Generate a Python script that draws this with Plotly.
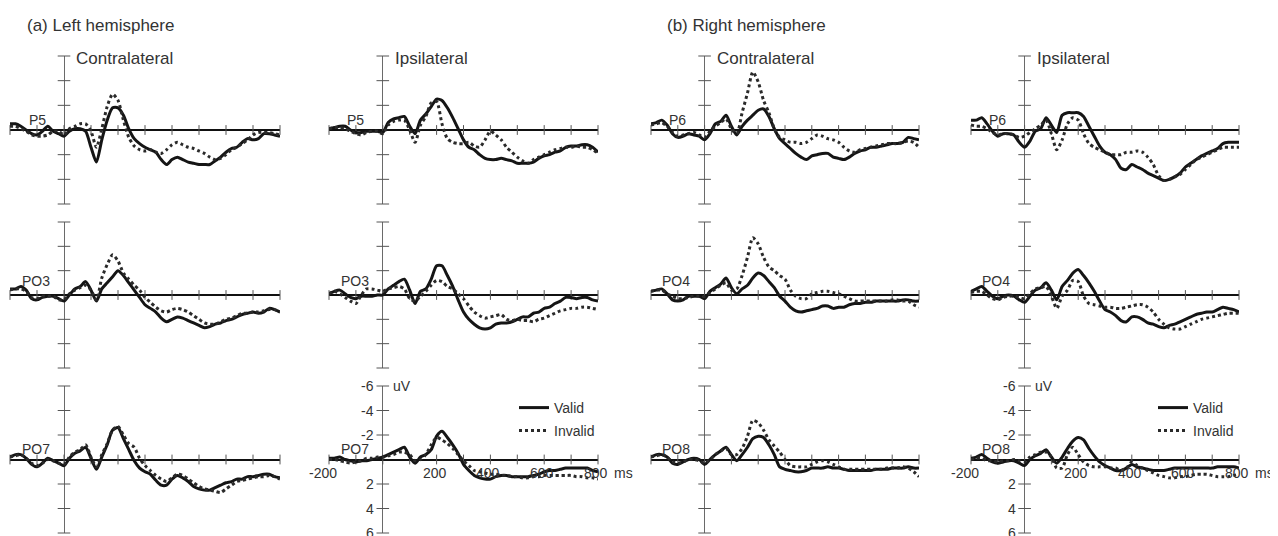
import plotly.graph_objects as go

# ---------------- data (uV, negative up) ----------------
TIME_MS = list(range(-200, 801, 20))

P5_CONTRA_VALID = [-0.5, -0.5, -0.3, 0.0, 0.3, 0.4, 0.1, -0.3, 0.1, 0.3,
                   0.5, 0.1, -0.1, -0.1, 0.1, 1.4, 2.6, 0.8, -0.8, -1.8,
                   -1.8, -1.2, -0.1, 0.7, 1.1, 1.4, 1.6, 1.8, 2.4, 2.8,
                   2.4, 2.2, 2.4, 2.6, 2.7, 2.8, 2.8, 2.8, 2.5, 2.2,
                   1.8, 1.5, 1.4, 1.0, 0.7, 0.8, 0.7, 0.3, 0.3, 0.4, 0.5]
P5_CONTRA_INVALID = [-0.3, -0.3, -0.1, 0.1, 0.4, 0.5, 0.5, 0.4, 0.1, 0.1,
                     0.4, -0.1, -0.3, -0.5, -0.5, 0.1, 1.4, -0.1, -1.9, -2.9,
                     -2.4, -0.8, 0.6, 1.3, 1.6, 1.7, 1.6, 1.8, 1.9, 1.6,
                     1.2, 1.0, 1.2, 1.4, 1.5, 1.7, 1.9, 2.2, 2.4, 2.3,
                     2.0, 1.6, 1.4, 1.1, 0.8, 0.4, 0.2, 0.2, 0.2, 0.3, 0.4]
P5_IPSI_VALID = [-0.1, -0.2, -0.3, -0.3, 0.0, 0.2, 0.2, 0.1, 0.1, 0.1,
                 0.2, -0.6, -0.9, -1.0, -1.1, -0.3, 0.3, -0.8, -1.3, -1.9,
                 -2.5, -2.4, -1.8, -1.0, -0.1, 0.8, 1.4, 1.6, 2.0, 2.3,
                 2.4, 2.4, 2.3, 2.4, 2.5, 2.7, 2.7, 2.7, 2.6, 2.3,
                 2.1, 2.0, 1.8, 1.7, 1.4, 1.3, 1.3, 1.2, 1.2, 1.4, 1.8]
P5_IPSI_INVALID = [-0.1, -0.2, -0.2, -0.1, 0.1, 0.3, 0.4, 0.2, 0.1, 0.1,
                   0.3, -0.4, -0.7, -0.8, -0.8, 0.0, 1.0, -0.4, -1.1, -2.2,
                   -2.3, -0.5, 0.7, 1.0, 1.1, 1.1, 1.0, 1.3, 1.4, 0.8,
                   0.1, 0.4, 0.8, 1.4, 1.8, 2.2, 2.5, 2.7, 2.4, 2.2,
                   2.0, 1.8, 1.6, 1.5, 1.4, 1.4, 1.3, 1.4, 1.4, 1.6, 1.9]
P6_CONTRA_VALID = [-0.5, -0.6, -0.8, -0.4, 0.3, 0.6, 0.5, 0.3, 0.4, 0.5,
                   0.8, 0.3, -0.5, -0.7, -1.2, -0.3, 0.4, -0.3, -0.8, -1.2,
                   -1.6, -1.7, -1.1, -0.1, 0.7, 1.1, 1.5, 1.9, 2.2, 2.4,
                   2.1, 2.0, 1.9, 1.9, 2.2, 2.3, 2.4, 2.2, 1.9, 1.7,
                   1.6, 1.4, 1.4, 1.3, 1.2, 1.1, 1.1, 1.0, 0.6, 0.7, 0.8]
P6_CONTRA_INVALID = [-0.4, -0.5, -0.6, -0.3, 0.2, 0.5, 0.4, 0.3, 0.2, 0.4,
                     0.6, 0.1, -0.3, -0.6, -0.9, -0.1, 0.3, -1.4, -3.0, -4.7,
                     -3.9, -2.4, -1.4, -0.1, 0.6, 0.8, 1.0, 1.0, 1.1, 1.0,
                     0.7, 0.4, 0.5, 0.7, 0.8, 1.0, 1.4, 1.7, 1.8, 1.6,
                     1.5, 1.4, 1.3, 1.2, 1.1, 1.1, 1.1, 1.0, 0.9, 1.0, 1.4]
P6_IPSI_VALID = [-0.8, -0.8, -1.0, -0.5, 0.1, 0.5, 0.3, 0.3, 0.4, 1.0,
                 1.4, 0.9, 0.1, -0.1, -1.0, -0.4, 0.2, -1.2, -1.4, -1.4,
                 -1.4, -1.1, -0.3, 0.5, 1.3, 1.8, 2.0, 2.4, 3.1, 3.2,
                 2.8, 3.0, 3.2, 3.5, 3.7, 3.9, 4.1, 4.0, 3.8, 3.5,
                 3.0, 2.7, 2.4, 2.1, 1.9, 1.7, 1.5, 1.1, 1.0, 1.0, 1.0]
P6_IPSI_INVALID = [-0.4, -0.3, -0.3, -0.1, 0.2, 0.4, 0.3, 0.3, 0.4, 0.6,
                   0.5, 0.2, -0.1, -0.4, -0.8, 0.3, 1.6, 0.8, -0.5, -1.0,
                   -0.8, 0.3, 1.1, 1.4, 1.6, 1.8, 2.0, 2.0, 2.0, 1.8,
                   1.8, 1.7, 1.8, 2.2, 2.8, 3.7, 4.1, 4.0, 3.8, 3.6,
                   3.2, 2.8, 2.4, 2.2, 2.0, 1.8, 1.6, 1.4, 1.4, 1.4, 1.4]

PO3_CONTRA_VALID = [-0.5, -0.5, -0.7, -0.4, 0.3, 0.4, 0.2, 0.1, 0.1, 0.3,
                    0.5, 0.0, -0.5, -0.7, -1.1, -0.4, 0.5, -0.5, -1.0, -1.5,
                    -2.0, -1.6, -1.0, -0.4, 0.2, 0.8, 1.1, 1.4, 1.9, 2.2,
                    2.0, 1.8, 1.9, 2.1, 2.3, 2.5, 2.7, 2.6, 2.4, 2.3,
                    2.1, 2.0, 1.8, 1.6, 1.5, 1.4, 1.5, 1.4, 1.1, 1.2, 1.4]
PO3_CONTRA_INVALID = [-0.4, -0.5, -0.5, -0.3, 0.2, 0.3, 0.1, 0.1, 0.1, 0.4,
                      0.4, -0.1, -0.4, -0.6, -0.8, -0.4, 0.4, -1.4, -2.5, -3.3,
                      -2.8, -1.8, -1.3, -0.8, -0.4, 0.2, 0.6, 1.0, 1.3, 1.4,
                      1.2, 1.1, 1.2, 1.4, 1.7, 2.0, 2.3, 2.4, 2.4, 2.2,
                      2.0, 1.9, 1.7, 1.5, 1.5, 1.4, 1.4, 1.3, 1.2, 1.2, 1.4]
PO3_IPSI_VALID = [-0.1, -0.3, -0.4, -0.1, 0.2, 0.3, 0.1, 0.1, 0.1, 0.0,
                  0.0, -0.5, -0.8, -1.1, -1.3, -0.4, 0.7, -0.3, -0.5, -1.3,
                  -2.4, -2.4, -1.6, -0.7, 0.4, 1.4, 2.0, 2.4, 2.7, 2.8,
                  2.7, 2.4, 2.3, 2.3, 2.2, 2.0, 1.8, 1.8, 1.5, 1.4,
                  1.1, 1.0, 0.7, 0.5, 0.2, 0.2, 0.3, 0.2, 0.2, 0.4, 0.5]
PO3_IPSI_INVALID = [-0.1, -0.3, -0.1, 0.2, 0.5, 0.7, 0.0, -0.5, -0.5, -0.4,
                    -0.3, -0.5, -0.6, -0.7, -0.5, 0.3, 0.5, 0.1, -0.3, -0.8,
                    -1.2, -1.1, -0.7, -0.5, -0.1, 0.3, 0.9, 1.4, 1.7, 1.9,
                    1.8, 1.7, 1.6, 2.0, 2.1, 2.0, 2.1, 2.1, 2.2, 2.0,
                    1.9, 1.7, 1.5, 1.3, 1.2, 1.1, 1.1, 1.0, 1.0, 1.1, 1.2]
PO4_CONTRA_VALID = [-0.3, -0.4, -0.5, -0.1, 0.4, 0.5, 0.4, 0.1, 0.1, 0.1,
                    0.3, -0.3, -0.6, -0.9, -1.4, -0.6, -0.1, -0.5, -0.8, -1.4,
                    -1.8, -1.6, -1.1, -0.6, 0.1, 0.5, 1.0, 1.3, 1.4, 1.3,
                    1.2, 1.1, 0.9, 0.9, 1.1, 1.0, 1.0, 0.8, 0.7, 0.7,
                    0.6, 0.6, 0.5, 0.5, 0.5, 0.5, 0.5, 0.4, 0.4, 0.5, 0.5]
PO4_CONTRA_INVALID = [-0.3, -0.4, -0.4, -0.1, 0.1, 0.3, 0.3, 0.2, 0.1, 0.1,
                      0.1, -0.2, -0.5, -0.8, -1.0, -0.4, -0.5, -1.6, -3.1, -4.7,
                      -4.2, -3.1, -2.3, -2.0, -1.6, -1.3, -0.4, 0.1, 0.3, 0.3,
                      -0.1, -0.2, -0.3, -0.3, -0.2, -0.1, 0.1, 0.3, 0.5, 0.5,
                      0.5, 0.5, 0.5, 0.5, 0.5, 0.4, 0.4, 0.5, 0.5, 0.8, 1.0]
PO4_IPSI_VALID = [-0.3, -0.5, -0.7, -0.3, 0.1, 0.3, 0.1, 0.0, 0.1, 0.4,
                  0.6, 0.1, -0.4, -0.6, -1.0, -0.4, 0.4, -0.7, -1.2, -1.8,
                  -2.1, -1.6, -1.0, -0.3, 0.5, 1.2, 1.4, 1.7, 2.1, 2.2,
                  1.8, 1.8, 2.0, 2.3, 2.4, 2.6, 2.7, 2.5, 2.4, 2.2,
                  2.0, 1.8, 1.6, 1.5, 1.4, 1.4, 1.2, 1.0, 1.1, 1.2, 1.4]
PO4_IPSI_INVALID = [-0.2, -0.3, -0.3, 0.0, 0.3, 0.4, 0.2, 0.1, 0.1, 0.2,
                    0.3, -0.1, -0.5, -0.6, -0.7, 0.1, 1.1, 0.1, -0.4, -1.2,
                    -1.1, 0.1, 0.7, 0.8, 0.9, 1.0, 1.0, 1.1, 1.1, 1.0,
                    0.9, 0.8, 0.8, 1.0, 1.4, 2.0, 2.4, 2.7, 2.8, 2.8,
                    2.6, 2.4, 2.2, 2.0, 1.9, 1.8, 1.7, 1.6, 1.5, 1.5, 1.5]

PO7_CONTRA_VALID = [-0.2, -0.4, -0.4, -0.1, 0.4, 0.6, 0.3, -0.1, 0.1, 0.3,
                    0.5, -0.1, -0.5, -0.7, -1.0, -0.1, 0.8, -0.2, -1.2, -2.4,
                    -2.6, -1.7, -0.8, 0.1, 0.7, 1.0, 1.2, 1.7, 2.1, 2.1,
                    1.6, 1.3, 1.5, 1.8, 2.2, 2.4, 2.5, 2.5, 2.3, 2.1,
                    1.9, 1.8, 1.6, 1.6, 1.4, 1.4, 1.3, 1.2, 1.2, 1.4, 1.5]
PO7_CONTRA_INVALID = [-0.2, -0.3, -0.4, -0.1, 0.3, 0.5, 0.3, 0.0, 0.1, 0.3,
                      0.4, -0.2, -0.6, -0.8, -1.2, -0.2, 0.6, -0.4, -1.3, -2.4,
                      -2.7, -2.0, -1.3, -1.0, -0.1, 0.5, 0.9, 1.3, 1.6, 1.8,
                      1.5, 1.2, 1.3, 1.6, 1.9, 2.2, 2.4, 2.5, 2.6, 2.7,
                      2.4, 2.1, 1.8, 1.7, 1.6, 1.5, 1.4, 1.4, 1.3, 1.4, 1.6]
PO7_IPSI_VALID = [-0.1, -0.1, -0.2, 0.0, 0.1, 0.2, 0.1, 0.1, 0.0, -0.1,
                  -0.2, -0.4, -0.6, -0.8, -1.0, -0.2, 0.3, -0.2, -0.4, -0.8,
                  -1.9, -2.3, -1.8, -1.2, -0.5, 0.4, 0.9, 1.3, 1.5, 1.6,
                  1.6, 1.4, 1.3, 1.3, 1.4, 1.4, 1.4, 1.4, 1.3, 1.2,
                  1.0, 0.9, 0.9, 0.8, 0.7, 0.7, 0.7, 0.7, 0.7, 0.9, 1.0]
PO7_IPSI_INVALID = [0.0, 0.0, 0.1, 0.2, 0.3, 0.2, 0.1, -0.1, -0.1, -0.2,
                    -0.2, -0.3, -0.4, -0.6, -0.6, -0.4, 0.1, 0.0, -0.4, -1.2,
                    -1.8, -1.6, -1.3, -0.9, -0.4, 0.1, 0.5, 0.9, 1.0, 1.1,
                    1.2, 1.2, 1.3, 1.3, 1.4, 1.4, 1.5, 1.5, 1.4, 1.4,
                    1.3, 1.3, 1.3, 1.3, 1.3, 1.3, 1.4, 1.4, 1.5, 1.5, 1.6]
PO8_CONTRA_VALID = [-0.2, -0.4, -0.4, -0.2, 0.3, 0.4, 0.2, 0.0, -0.1, 0.0,
                    0.4, 0.0, -0.4, -0.7, -1.0, -0.4, 0.1, -0.4, -1.0, -1.7,
                    -1.9, -1.8, -1.2, -0.4, 0.6, 0.8, 0.9, 1.0, 1.0, 0.9,
                    0.7, 0.7, 0.7, 0.6, 0.7, 0.7, 0.8, 0.9, 0.9, 0.9,
                    0.9, 0.9, 0.8, 0.8, 0.8, 0.7, 0.7, 0.7, 0.6, 0.7, 0.7]
PO8_CONTRA_INVALID = [-0.2, -0.3, -0.4, -0.2, 0.2, 0.3, 0.2, 0.0, 0.0, 0.1,
                      0.3, 0.0, -0.4, -0.7, -0.9, -0.4, -0.4, -0.9, -1.9, -3.2,
                      -3.0, -2.4, -1.6, -1.1, -0.6, 0.0, 0.5, 0.6, 0.6, 0.6,
                      0.4, 0.2, 0.1, 0.2, 0.4, 0.6, 0.8, 0.8, 0.8, 0.8,
                      0.8, 0.8, 0.8, 0.8, 0.7, 0.7, 0.7, 0.6, 0.7, 1.0, 1.4]
PO8_IPSI_VALID = [-0.1, -0.2, -0.4, -0.1, 0.2, 0.3, 0.2, 0.1, 0.1, 0.3,
                  0.5, 0.0, -0.3, -0.5, -0.8, -0.2, 0.3, -0.2, -0.9, -1.5,
                  -1.8, -1.6, -0.9, -0.3, 0.2, 0.5, 0.7, 0.9, 0.9, 0.7,
                  0.4, 0.6, 0.7, 0.8, 0.9, 0.9, 0.9, 0.8, 0.7, 0.7,
                  0.7, 0.7, 0.7, 0.7, 0.7, 0.7, 0.6, 0.6, 0.6, 0.6, 0.7]
PO8_IPSI_INVALID = [0.0, -0.1, -0.1, 0.1, 0.1, 0.2, 0.1, 0.1, 0.0, 0.1,
                    0.2, -0.2, -0.4, -0.6, -0.6, -0.2, 0.7, 0.7, -0.4, -1.0,
                    -0.4, 0.2, 0.5, 0.6, 0.6, 0.6, 0.7, 0.7, 0.9, 0.7,
                    0.2, 0.5, 0.7, 0.9, 1.1, 1.3, 1.4, 1.5, 1.5, 1.4,
                    1.4, 1.3, 1.2, 1.2, 1.2, 1.3, 1.4, 1.4, 1.4, 1.3, 1.2]

X_TICKS = [-200, -100, 0, 100, 200, 300, 400, 500, 600, 700, 800]
Y_TICKS = [-6, -4, -2, 2, 4, 6]
X_TICK_LABELS = [-200, 200, 400, 600, 800]
Y_TICK_LABELS = [-6, -4, -2, 2, 4, 6]

# (row, col, electrode, valid, invalid)
PANELS = [
    (1, 1, "P5", P5_CONTRA_VALID, P5_CONTRA_INVALID),
    (1, 2, "P5", P5_IPSI_VALID, P5_IPSI_INVALID),
    (1, 3, "P6", P6_CONTRA_VALID, P6_CONTRA_INVALID),
    (1, 4, "P6", P6_IPSI_VALID, P6_IPSI_INVALID),
    (2, 1, "PO3", PO3_CONTRA_VALID, PO3_CONTRA_INVALID),
    (2, 2, "PO3", PO3_IPSI_VALID, PO3_IPSI_INVALID),
    (2, 3, "PO4", PO4_CONTRA_VALID, PO4_CONTRA_INVALID),
    (2, 4, "PO4", PO4_IPSI_VALID, PO4_IPSI_INVALID),
    (3, 1, "PO7", PO7_CONTRA_VALID, PO7_CONTRA_INVALID),
    (3, 2, "PO7", PO7_IPSI_VALID, PO7_IPSI_INVALID),
    (3, 3, "PO8", PO8_CONTRA_VALID, PO8_CONTRA_INVALID),
    (3, 4, "PO8", PO8_IPSI_VALID, PO8_IPSI_INVALID),
]

# ---------------- layout geometry ----------------
# the page body keeps its default 8px margin, so the figure is made 8px
# smaller and every target pixel position is measured from that offset
OFF = 8
W, H = 1278 - OFF, 536 - OFF
COL_PX = [(10, 280), (329, 598), (651, 919), (971, 1239)]
ROW_PX = [(56, 204), (222, 368), (386, 533)]
LABEL_SHIFT = {1: 10, 2: 14, 3: 11}
FONT = "Liberation Sans, Arial, sans-serif"
TXT = "#333333"
LINE = "#151515"


def px_x(p):
    return (p - OFF) / W


def px_y(p):
    return 1 - (p - OFF) / H


fig = go.Figure()
layout = dict(width=W, height=H, margin=dict(l=0, r=0, t=0, b=0),
              paper_bgcolor="white", plot_bgcolor="white",
              font=dict(family=FONT, color=TXT, size=14))
annotations = []
legend_slot = {(3, 2): ("legend", "legend2"), (3, 4): ("legend3", "legend4")}

for k, (r, c, elec, valid, invalid) in enumerate(PANELS, start=1):
    sfx = "" if k == 1 else str(k)
    xa, ya = "x" + sfx, "y" + sfx
    x0, x1 = COL_PX[c - 1]
    y0, y1 = ROW_PX[r - 1]
    layout["xaxis" + sfx] = dict(domain=[px_x(x0), px_x(x1)], range=[-200, 800], anchor=ya,
                                 showgrid=False, showticklabels=False, showline=False,
                                 ticks="", zeroline=True, zerolinecolor="#6a6a6a",
                                 zerolinewidth=1, fixedrange=True)
    layout["yaxis" + sfx] = dict(domain=[px_y(y1), px_y(y0)], range=[6, -6], anchor=xa,
                                 showgrid=False, showticklabels=False, showline=False,
                                 ticks="", zeroline=True, zerolinecolor="#111111",
                                 zerolinewidth=2, fixedrange=True)
    # tick marks crossing the axes
    fig.add_trace(go.Scatter(x=X_TICKS, y=[0] * len(X_TICKS), mode="markers",
                             marker=dict(symbol="line-ns", size=7,
                                         line=dict(width=1, color="#555")),
                             xaxis=xa, yaxis=ya, showlegend=False, hoverinfo="skip",
                             cliponaxis=False))
    fig.add_trace(go.Scatter(x=[0] * len(Y_TICKS), y=Y_TICKS, mode="markers",
                             marker=dict(symbol="line-ew", size=9,
                                         line=dict(width=1, color="#555")),
                             xaxis=xa, yaxis=ya, showlegend=False, hoverinfo="skip",
                             cliponaxis=False))
    lg = legend_slot.get((r, c))
    fig.add_trace(go.Scatter(x=TIME_MS, y=valid, mode="lines", name="Valid",
                             line=dict(color=LINE, width=3, shape="spline", smoothing=0.7),
                             xaxis=xa, yaxis=ya, showlegend=lg is not None,
                             legend=lg[0] if lg else "legend"))
    fig.add_trace(go.Scatter(x=TIME_MS, y=invalid, mode="lines", name="Invalid",
                             line=dict(color="#2a2a2a", width=3, dash="dot",
                                       shape="spline", smoothing=0.7),
                             xaxis=xa, yaxis=ya, showlegend=lg is not None,
                             legend=lg[1] if lg else "legend"))
    # electrode label
    annotations.append(dict(x=-105 if len(elec) == 3 else -100, y=0, xref=xa, yref=ya,
                            text=elec, showarrow=False, xanchor="center", yanchor="middle",
                            yshift=LABEL_SHIFT[r], font=dict(size=14, color=TXT)))
    # column titles
    if r == 1:
        annotations.append(dict(x=0, y=-6, xref=xa, yref=ya,
                                text="Contralateral" if c in (1, 3) else "Ipsilateral",
                                showarrow=False, xanchor="left", yanchor="middle",
                                xshift=10, yshift=-2, font=dict(size=17, color=TXT)))
    # scale (tick labels) on the two bottom ipsilateral panels
    if lg is not None:
        for v in Y_TICK_LABELS:
            annotations.append(dict(x=0, y=v, xref=xa, yref=ya, text=str(v), showarrow=False,
                                    xanchor="right", yanchor="middle", xshift=-7,
                                    font=dict(size=14, color=TXT)))
        for t in X_TICK_LABELS:
            annotations.append(dict(x=t, y=0, xref=xa, yref=ya, text=str(t), showarrow=False,
                                    xanchor="center", yanchor="middle", yshift=-13,
                                    xshift=-6 if t < 0 else -2,
                                    font=dict(size=14, color=TXT)))
        annotations.append(dict(x=0, y=-6, xref=xa, yref=ya, text="uV", showarrow=False,
                                xanchor="left", yanchor="middle", xshift=8,
                                font=dict(size=14, color=TXT)))
        annotations.append(dict(x=800, y=0, xref=xa, yref=ya, text="ms", showarrow=False,
                                xanchor="left", yanchor="middle", xshift=14, yshift=-13,
                                font=dict(size=14, color=TXT)))

# panel group headings
annotations.append(dict(x=px_x(25), y=px_y(25), xref="paper", yref="paper",
                        text="(a) Left hemisphere", showarrow=False, xanchor="left",
                        yanchor="middle", font=dict(size=17, color=TXT)))
annotations.append(dict(x=px_x(665), y=px_y(25), xref="paper", yref="paper",
                        text="(b) Right hemisphere", showarrow=False, xanchor="left",
                        yanchor="middle", font=dict(size=17, color=TXT)))

leg_common = dict(xanchor="left", yanchor="middle", bgcolor="rgba(0,0,0,0)",
                  borderwidth=0, font=dict(size=14, color=TXT, family=FONT),
                  itemwidth=30, itemclick=False, itemdoubleclick=False)
layout["legend"] = dict(x=px_x(514), y=px_y(408), **leg_common)
layout["legend2"] = dict(x=px_x(514), y=px_y(431), **leg_common)
layout["legend3"] = dict(x=px_x(1153), y=px_y(408), **leg_common)
layout["legend4"] = dict(x=px_x(1153), y=px_y(431), **leg_common)
layout["annotations"] = annotations
layout["showlegend"] = True

fig.update_layout(**layout)
fig.write_html("out.html")
